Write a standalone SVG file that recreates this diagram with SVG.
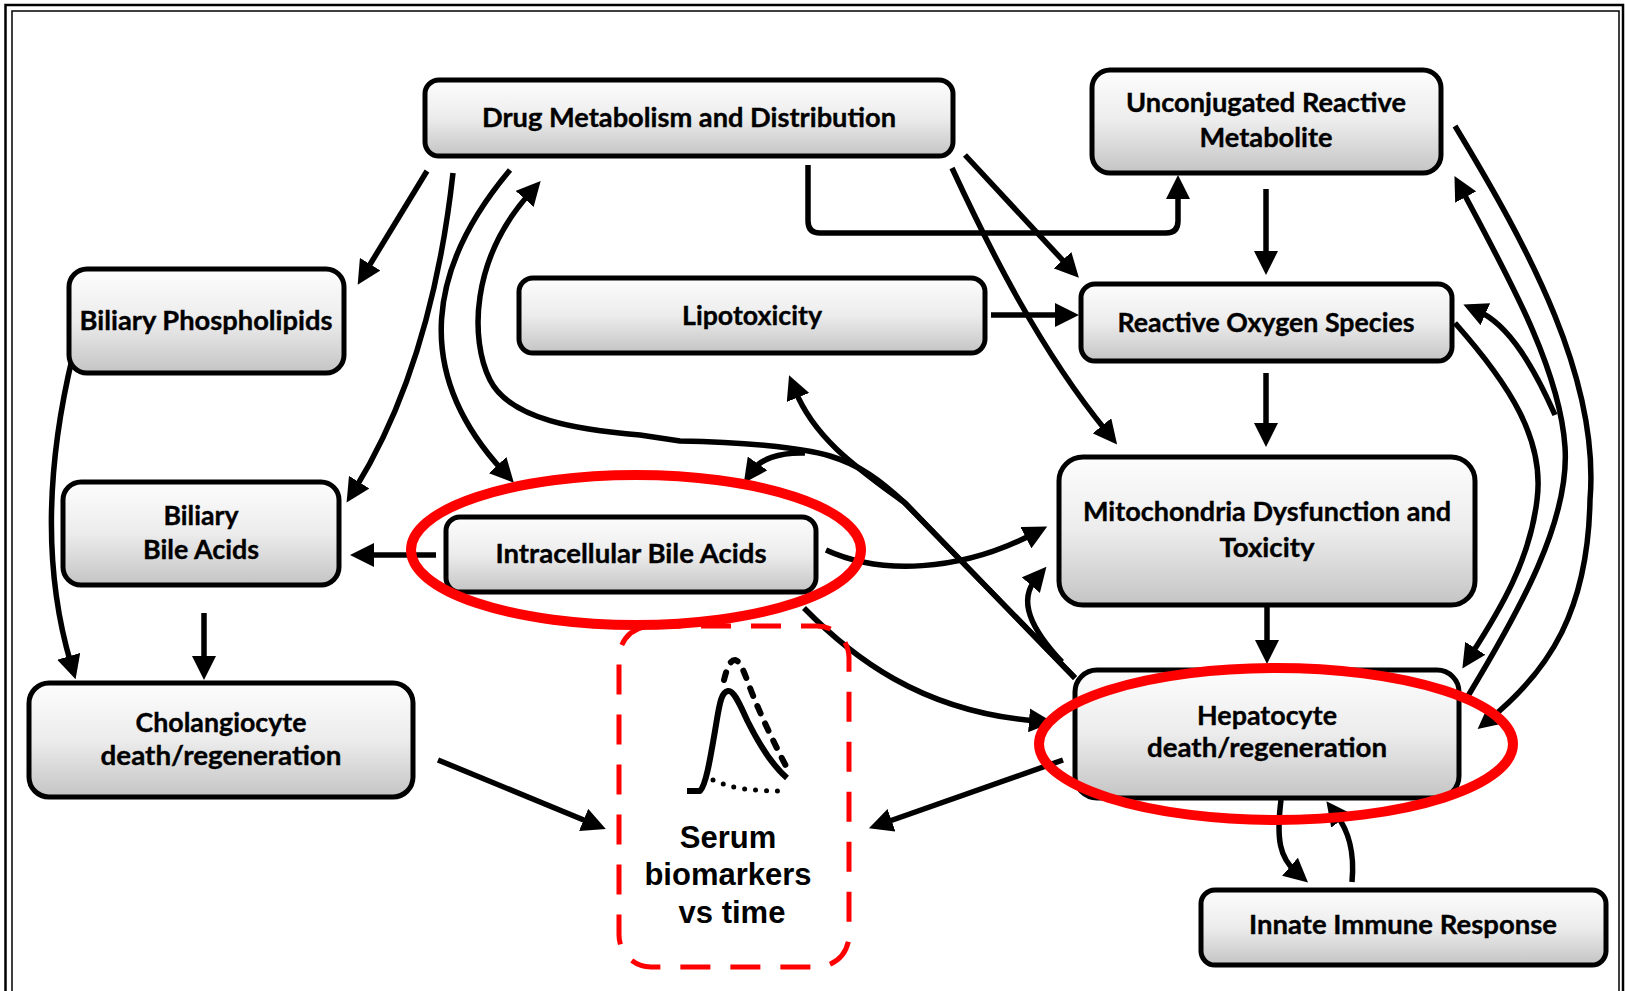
<svg xmlns="http://www.w3.org/2000/svg" width="1625" height="991" viewBox="0 0 1625 991">
<defs>
<linearGradient id="g" x1="0" y1="0" x2="0" y2="1">
<stop offset="0" stop-color="#fdfdfd"/>
<stop offset="0.5" stop-color="#ececec"/>
<stop offset="1" stop-color="#c4c4c4"/>
</linearGradient>
<marker id="ah" markerUnits="userSpaceOnUse" markerWidth="24" markerHeight="24" viewBox="0 0 24 24" refX="8" refY="12" orient="auto">
<path d="M0,0 L24,12 L0,24 z" fill="#000"/>
</marker>
<style>
.box{fill:url(#g);stroke:#000;stroke-width:5}
.t{font-family:Lato,"Open Sans","DejaVu Sans",sans-serif;font-weight:700;font-size:26px;fill:#000;stroke:#000;stroke-width:0.35;text-anchor:middle}
.c{fill:none;stroke:#000;stroke-width:5.5;stroke-linejoin:round}
.a{marker-end:url(#ah)}
.red{fill:none;stroke:#ff0000;stroke-width:10}
.st{font-family:"Liberation Sans",Arial,sans-serif;font-weight:700;font-size:31px;fill:#000;text-anchor:middle}
</style>
</defs>
<rect x="0" y="0" width="1625" height="991" fill="#fff"/>
<rect x="5.5" y="5" width="1617.5" height="1010" fill="none" stroke="#000" stroke-width="2.5"/>
<rect x="12" y="11" width="1607" height="1000" fill="none" stroke="#000" stroke-width="1.5"/>

<g id="connectors">
<path class="c a" d="M427,171 L366,271"/>
<path class="c a" d="M453,173 C440,290 410,400 355,489"/>
<path class="c a" d="M510,170 C430,265 410,370 503,471"/>
<path class="c a" d="M1075,678 L905,503 C880,480 860,465 830,456 C800,447 740,442 680,441 L640,435 C580,430 510,420 490,380 C470,340 470,260 530,193"/>
<path class="c a" d="M1075,678 L905,503 C860,470 815,440 795,390"/>
<path class="c a" d="M805,453 C778,452 760,460 753,470"/>
<path class="c a" d="M1062,662 C1030,628 1018,600 1036,579"/>
<path class="c a" d="M826,550 C880,575 960,572 1033,534"/>
<path class="c a" d="M804,608 C850,655 920,712 1037,721"/>
<path class="c a" d="M808,165 L808,221 Q808,233 820,233 L1166,233 Q1178,233 1178,221 L1178,191"/>
<path class="c a" d="M965,155 L1068,266"/>
<path class="c a" d="M952,168 C990,250 1040,350 1107,432"/>
<path class="c a" d="M991,315 L1063,315"/>
<path class="c a" d="M1266,189 L1266,259"/>
<path class="c a" d="M1266,373 L1266,431"/>
<path class="c a" d="M1267,606 L1267,648"/>
<path class="c a" d="M436,555 L366,555"/>
<path class="c a" d="M73,355 C50,450 40,560 71,664"/>
<path class="c a" d="M204,613 L204,664"/>
<path class="c a" d="M438,760 L591,823"/>
<path class="c a" d="M1063,760 L884,823"/>
<path class="c a" d="M1455,126 C1530,250 1600,380 1590,500 C1588,610 1550,670 1490,719"/>
<path class="c a" d="M1468,696 C1520,610 1570,520 1565,447 C1560,370 1510,280 1462,190"/>
<path class="c a" d="M1555,415 C1535,370 1510,325 1478,311"/>
<path class="c a" d="M1455,323 C1510,385 1545,440 1537,500 C1530,560 1500,610 1471,655"/>
<path class="c a" d="M1281,800 C1276,840 1280,858 1296,872"/>
<path class="c a" d="M1352,882 C1355,850 1348,830 1336,814"/>
</g>

<g id="drug">
<rect class="box" x="425" y="80" width="528" height="76" rx="14"/>
<text class="t" x="689" y="127" textLength="414" lengthAdjust="spacingAndGlyphs">Drug Metabolism and Distribution</text>
</g>
<g id="unconjugated">
<rect class="box" x="1092" y="70" width="349" height="103" rx="18"/>
<text class="t" x="1266" y="112" textLength="280" lengthAdjust="spacingAndGlyphs">Unconjugated Reactive</text>
<text class="t" x="1266" y="147" textLength="133" lengthAdjust="spacingAndGlyphs">Metabolite</text>
</g>
<g id="biliary-phospholipids">
<rect class="box" x="69" y="269" width="275" height="104" rx="18"/>
<text class="t" x="206" y="330" textLength="253" lengthAdjust="spacingAndGlyphs">Biliary Phospholipids</text>
</g>
<g id="lipotoxicity">
<rect class="box" x="519" y="278" width="466" height="75" rx="14"/>
<text class="t" x="752" y="325" textLength="140" lengthAdjust="spacingAndGlyphs">Lipotoxicity</text>
</g>
<g id="ros">
<rect class="box" x="1081" y="284" width="371" height="77" rx="14"/>
<text class="t" x="1266" y="332" textLength="297" lengthAdjust="spacingAndGlyphs">Reactive Oxygen Species</text>
</g>
<g id="biliary-bile-acids">
<rect class="box" x="63" y="482" width="276" height="103" rx="18"/>
<text class="t" x="201" y="525" textLength="75" lengthAdjust="spacingAndGlyphs">Biliary</text>
<text class="t" x="201" y="559" textLength="116" lengthAdjust="spacingAndGlyphs">Bile Acids</text>
</g>
<g id="intracellular-bile-acids">
<rect class="box" x="446" y="517" width="370" height="75" rx="14"/>
<text class="t" x="631" y="563" textLength="271" lengthAdjust="spacingAndGlyphs">Intracellular Bile Acids</text>
</g>
<g id="mitochondria">
<rect class="box" x="1059" y="457" width="416" height="148" rx="24"/>
<text class="t" x="1267" y="521" textLength="368" lengthAdjust="spacingAndGlyphs">Mitochondria Dysfunction and</text>
<text class="t" x="1267" y="557" textLength="95" lengthAdjust="spacingAndGlyphs">Toxicity</text>
</g>
<g id="cholangiocyte">
<rect class="box" x="29" y="683" width="384" height="114" rx="20"/>
<text class="t" x="221" y="732" textLength="171" lengthAdjust="spacingAndGlyphs">Cholangiocyte</text>
<text class="t" x="221" y="765" textLength="241" lengthAdjust="spacingAndGlyphs">death/regeneration</text>
</g>
<g id="hepatocyte">
<rect class="box" x="1075" y="670" width="384" height="128" rx="22"/>
<text class="t" x="1267" y="725" textLength="140" lengthAdjust="spacingAndGlyphs">Hepatocyte</text>
<text class="t" x="1267" y="757" textLength="240" lengthAdjust="spacingAndGlyphs">death/regeneration</text>
</g>
<g id="innate-immune">
<rect class="box" x="1201" y="890" width="405" height="75" rx="14"/>
<text class="t" x="1403" y="934" textLength="308" lengthAdjust="spacingAndGlyphs">Innate Immune Response</text>
</g>
<g id="serum-biomarkers">
<rect x="619" y="626" width="230" height="341" rx="32" fill="none" stroke="#ff0000" stroke-width="5" stroke-dasharray="30 20"/>
<path d="M687,791 L700,791 C706,785 710,760 716,725 C720,700 722,692 728,691 C734,690 740,705 748,722 C758,742 772,765 787,778" fill="none" stroke="#000" stroke-width="6" stroke-linejoin="round"/>
<path d="M724,680 C727,668 730,660 735,660 C741,661 745,675 752,693 C762,718 775,745 787,768" fill="none" stroke="#000" stroke-width="6" stroke-linecap="round" stroke-dasharray="8 11"/>
<path d="M713,780 C725,785 740,791 780,791" fill="none" stroke="#000" stroke-width="5" stroke-linecap="round" stroke-dasharray="0 11"/>
<text class="st" x="728" y="848">Serum</text>
<text class="st" x="728" y="885">biomarkers</text>
<text class="st" x="732" y="923">vs time</text>
</g>
<g id="highlights">
<ellipse class="red" cx="636" cy="550" rx="225" ry="75"/>
<ellipse class="red" cx="1276" cy="744" rx="237" ry="76"/>
</g>
</svg>
